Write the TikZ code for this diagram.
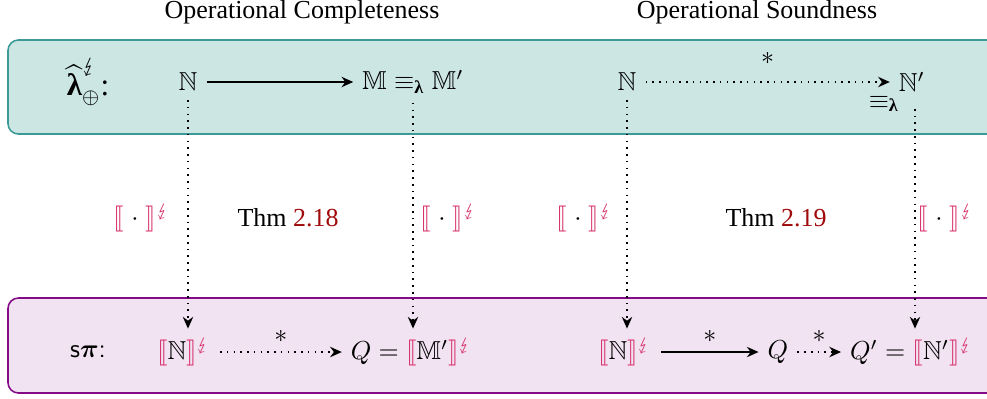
\documentclass[tikz,border=0pt]{standalone}
\usepackage{amsmath,amssymb,stmaryrd}
\usepackage{fontspec}
\setmainfont{Liberation Serif}
\usetikzlibrary{arrows.meta}

\definecolor{lamfill}{HTML}{CCE6E4}
\definecolor{lamline}{HTML}{3C9A96}
\definecolor{pifill}{HTML}{F1E3F1}
\definecolor{piline}{HTML}{850A85}
\definecolor{semcol}{HTML}{D8336E}
\definecolor{refcol}{HTML}{A00A0A}

\newcommand{\NN}{\mathbb{N}}
\newcommand{\MM}{\mathbb{M}}
\newcommand{\lam}{\text{\bfseries λ}}
\newcommand{\encode}[1]{\textcolor{semcol}{\llbracket}#1\textcolor{semcol}{\rrbracket^{\lightning}}}

\tikzset{
  band/.style={rounded corners=4pt,line width=0.6pt},
  red/.style={semithick,-{Stealth[length=4.5pt,width=4pt]}},
  msteps/.style={semithick,dotted,-{Stealth[length=4.5pt,width=4pt]}},
}

\begin{document}
\begin{tikzpicture}
[x=0.385pt,y=-0.385pt]
\useasboundingbox (0,0) rectangle (987,398);

% the two languages
\draw[band,draw=lamline,fill=lamfill] (8,40) rectangle (1010,134);
\draw[band,draw=piline,fill=pifill] (8,298) rectangle (1010,393);

\node (T1) at (302,12) {Operational Completeness};
\node (T2) at (757,12) {Operational Soundness};

\node[font=\large] (L) at (88,82) {$\widehat{\lam}^{\lightning}_{\oplus}$:};
\node (P) at (88,352) {\textsf{s}$\boldsymbol{\pi}$\textsf{:}};

% completeness
\node (N1) at (188,82) {$\NN$};
\node (M1) at (413,82) {$\MM \equiv_{\lam} \MM'$};
\node (S1) at (184,352) {$\encode{\NN}$};
\node (Q1) at (412,352) {$Q = \encode{\MM'}$};

\draw[red] (N1) -- (M1);
\draw[msteps] (S1) -- node[above] {$*$} (Q1);
\draw[msteps] (N1) -- (N1 |- S1.north);
\draw[msteps] (M1.south) -- (M1.south |- Q1.north);

\node (E1) at (142,218) {$\encode{\mkern1mu\cdot\mkern1mu}$};
\node (E2) at (449,218) {$\encode{\mkern1mu\cdot\mkern1mu}$};
\node (C1) at (288,218) {Thm \textcolor{refcol}{2.18}};

% soundness
\node (N2) at (627,82) {$\NN$};
\node (N2p) at (912,82) {$\NN'$};
\node (Eq) at (884,104) {$\equiv_{\lam}$};
\node (S2) at (625,352) {$\encode{\NN}$};
\node (Q2) at (778,352) {$Q$};
\node (Q2p) at (912,352) {$Q' = \encode{\NN'}$};

\draw[msteps] (N2) -- node[above=3pt] {$*$} (N2p);
\draw[red] (S2) -- node[above] {$*$} (Q2);
\draw[msteps] (Q2) -- node[above] {$*$} (Q2p);
\draw[msteps] (N2) -- (N2 |- S2.north);
\draw[msteps] (N2p.south) ++(3,8) coordinate (D) -- (D |- Q2p.north);

\node (E3) at (585,218) {$\encode{\mkern1mu\cdot\mkern1mu}$};
\node (E4) at (946,218) {$\encode{\mkern1mu\cdot\mkern1mu}$};
\node (C2) at (776,218) {Thm \textcolor{refcol}{2.19}};
\end{tikzpicture}
\end{document}
